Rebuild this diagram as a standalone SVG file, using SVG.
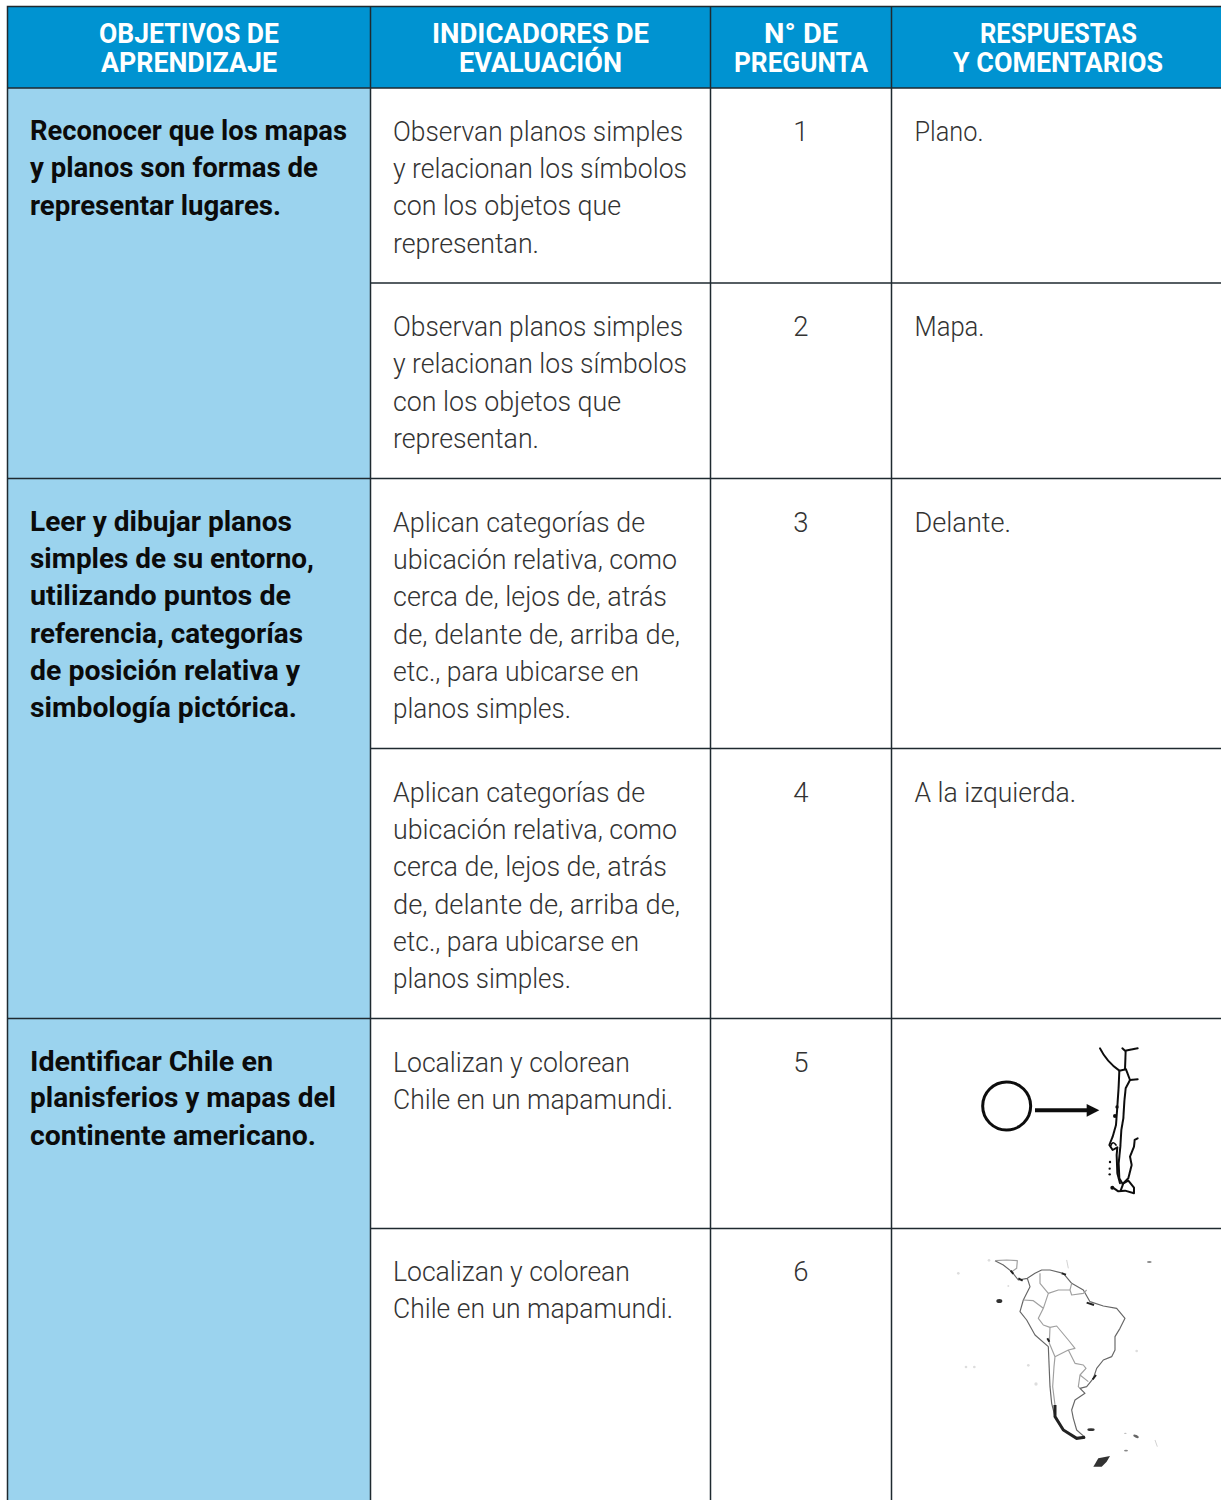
<svg xmlns="http://www.w3.org/2000/svg" width="1221" height="1500" viewBox="0 0 1221 1500">
<defs>
<filter id="soft" x="-5%" y="-5%" width="110%" height="110%"><feGaussianBlur stdDeviation="1.800"/></filter>
</defs>
<style>
text{font-family:"Roboto","Liberation Sans",sans-serif}
.h{font-size:27px;font-weight:700;fill:#fff}
.b{font-size:27px;font-weight:700;fill:#0b0b0b}
.t{font-size:27.500px;font-weight:300;fill:#333}
.n{text-anchor:middle}
.l{stroke:#1f2a30;stroke-width:1.5;fill:none}
.m{fill:none;stroke:#111;stroke-width:6;stroke-linejoin:round;stroke-linecap:round}
.g{fill:none;stroke:#666;stroke-width:3.500;stroke-linejoin:round}
.g2{fill:none;stroke:#a0a0a0;stroke-width:3.500;stroke-linejoin:round}
</style>
<rect width="1221" height="1500" fill="#fff"/>
<rect x="7" y="6" width="1214" height="82" fill="#0093d1"/>
<rect x="7" y="88" width="363.500" height="1412" fill="#9bd3ee"/>
<g id="grid">
<path class="l" d="M7.500 1500V6.500H1221M7.500 88H1221M370.500 6V1500M710.500 6V1500M891.500 6V1500"/>
<path class="l" d="M370.500 283H1221M7.500 478.500H1221M370.500 748.500H1221M7.500 1018.500H1221M370.500 1228.500H1221"/>
</g>
<g id="header">
<text class="h" x="99" y="43" textLength="180" lengthAdjust="spacingAndGlyphs">OBJETIVOS DE</text>
<text class="h" x="101" y="72" textLength="176" lengthAdjust="spacingAndGlyphs">APRENDIZAJE</text>
<text class="h" x="432" y="43" textLength="217" lengthAdjust="spacingAndGlyphs">INDICADORES DE</text>
<text class="h" x="459" y="72" textLength="163" lengthAdjust="spacingAndGlyphs">EVALUACIÓN</text>
<text class="h" x="764" y="43" textLength="74" lengthAdjust="spacingAndGlyphs">N° DE</text>
<text class="h" x="734" y="72" textLength="134" lengthAdjust="spacingAndGlyphs">PREGUNTA</text>
<text class="h" x="980" y="43" textLength="157" lengthAdjust="spacingAndGlyphs">RESPUESTAS</text>
<text class="h" x="953" y="72" textLength="210" lengthAdjust="spacingAndGlyphs">Y COMENTARIOS</text>
</g>
<g id="objetivo-1">
<text class="b" x="30" y="140" textLength="317" lengthAdjust="spacingAndGlyphs">Reconocer que los mapas</text>
<text class="b" x="30" y="177" textLength="288" lengthAdjust="spacingAndGlyphs">y planos son formas de</text>
<text class="b" x="30" y="214.500" textLength="251" lengthAdjust="spacingAndGlyphs">representar lugares.</text>
</g>
<g id="objetivo-2">
<text class="b" x="30" y="530.500" textLength="262" lengthAdjust="spacingAndGlyphs">Leer y dibujar planos</text>
<text class="b" x="30" y="567.500" textLength="284" lengthAdjust="spacingAndGlyphs">simples de su entorno,</text>
<text class="b" x="30" y="604.500" textLength="261" lengthAdjust="spacingAndGlyphs">utilizando puntos de</text>
<text class="b" x="30" y="642.500" textLength="273" lengthAdjust="spacingAndGlyphs">referencia, categorías</text>
<text class="b" x="30" y="679.500" textLength="270" lengthAdjust="spacingAndGlyphs">de posición relativa y</text>
<text class="b" x="30" y="716.500" textLength="267" lengthAdjust="spacingAndGlyphs">simbología pictórica.</text>
</g>
<g id="objetivo-3">
<text class="b" x="30" y="1070.500" textLength="243" lengthAdjust="spacingAndGlyphs">Identificar Chile en</text>
<text class="b" x="30" y="1107" textLength="306" lengthAdjust="spacingAndGlyphs">planisferios y mapas del</text>
<text class="b" x="30" y="1144.500" textLength="286" lengthAdjust="spacingAndGlyphs">continente americano.</text>
</g>
<g id="fila-1">
<text class="t" x="393" y="141" textLength="290" lengthAdjust="spacingAndGlyphs">Observan planos simples</text>
<text class="t" x="393" y="178" textLength="294" lengthAdjust="spacingAndGlyphs">y relacionan los símbolos</text>
<text class="t" x="393" y="215" textLength="228" lengthAdjust="spacingAndGlyphs">con los objetos que</text>
<text class="t" x="393" y="253" textLength="146" lengthAdjust="spacingAndGlyphs">representan.</text>
<text class="t n" x="801" y="141">1</text>
<text class="t" x="914.500" y="141" textLength="69" lengthAdjust="spacingAndGlyphs">Plano.</text>
</g>
<g id="fila-2">
<text class="t" x="393" y="336" textLength="290" lengthAdjust="spacingAndGlyphs">Observan planos simples</text>
<text class="t" x="393" y="373" textLength="294" lengthAdjust="spacingAndGlyphs">y relacionan los símbolos</text>
<text class="t" x="393" y="411" textLength="228" lengthAdjust="spacingAndGlyphs">con los objetos que</text>
<text class="t" x="393" y="448" textLength="146" lengthAdjust="spacingAndGlyphs">representan.</text>
<text class="t n" x="801" y="336">2</text>
<text class="t" x="914.500" y="336" textLength="70" lengthAdjust="spacingAndGlyphs">Mapa.</text>
</g>
<g id="fila-3">
<text class="t" x="393" y="532" textLength="252" lengthAdjust="spacingAndGlyphs">Aplican categorías de</text>
<text class="t" x="393" y="569" textLength="284" lengthAdjust="spacingAndGlyphs">ubicación relativa, como</text>
<text class="t" x="393" y="606" textLength="274" lengthAdjust="spacingAndGlyphs">cerca de, lejos de, atrás</text>
<text class="t" x="393" y="644" textLength="287" lengthAdjust="spacingAndGlyphs">de, delante de, arriba de,</text>
<text class="t" x="393" y="681" textLength="246" lengthAdjust="spacingAndGlyphs">etc., para ubicarse en</text>
<text class="t" x="393" y="718" textLength="178" lengthAdjust="spacingAndGlyphs">planos simples.</text>
<text class="t n" x="801" y="532">3</text>
<text class="t" x="914.500" y="532" textLength="96.500" lengthAdjust="spacingAndGlyphs">Delante.</text>
</g>
<g id="fila-4">
<text class="t" x="393" y="802" textLength="252" lengthAdjust="spacingAndGlyphs">Aplican categorías de</text>
<text class="t" x="393" y="839" textLength="284" lengthAdjust="spacingAndGlyphs">ubicación relativa, como</text>
<text class="t" x="393" y="876" textLength="274" lengthAdjust="spacingAndGlyphs">cerca de, lejos de, atrás</text>
<text class="t" x="393" y="914" textLength="287" lengthAdjust="spacingAndGlyphs">de, delante de, arriba de,</text>
<text class="t" x="393" y="951" textLength="246" lengthAdjust="spacingAndGlyphs">etc., para ubicarse en</text>
<text class="t" x="393" y="988" textLength="178" lengthAdjust="spacingAndGlyphs">planos simples.</text>
<text class="t n" x="801" y="802">4</text>
<text class="t" x="914.500" y="802" textLength="161.500" lengthAdjust="spacingAndGlyphs">A la izquierda.</text>
</g>
<g id="fila-5">
<text class="t" x="393" y="1072" textLength="237" lengthAdjust="spacingAndGlyphs">Localizan y colorean</text>
<text class="t" x="393" y="1109" textLength="280" lengthAdjust="spacingAndGlyphs">Chile en un mapamundi.</text>
<text class="t n" x="801" y="1072">5</text>
<g id="mapa-chile" transform="translate(960 1030) scale(.33333)" filter="url(#soft)">
<circle cx="140" cy="228" r="72" fill="none" stroke="#111" stroke-width="9"/>
<path d="M225 241H382" stroke="#111" stroke-width="12" fill="none"/>
<path d="M380 222L418 241L380 260Z" fill="#111"/>
<path class="m" d="M420 55Q440 95 478 122L498 118L510 150L497 175L493 215L490 265L484 300L481 350L476 400L478 445L488 462L505 445L515 405L510 380L522 350L524 330L533 325"/>
<path class="m" d="M487 55L495 62L533 55M497 62L495 118M510 150L533 148M478 122L476 170L472 230L468 285L458 320L448 345L458 360L472 352L470 375L472 430L480 460"/>
<path class="m" style="stroke-width:5" d="M452 348Q458 330 468 345"/>
<path class="m" d="M462 475L475 484L495 482L522 490L522 473L505 452L490 460L482 482"/>
<g fill="#111">
<circle cx="471" cy="231" r="5"/><circle cx="465" cy="258" r="6"/><circle cx="450" cy="396" r="3.500"/><circle cx="449" cy="416" r="3.500"/><circle cx="449" cy="433" r="3.500"/><circle cx="457" cy="473" r="6"/>
</g>
</g>
</g>
<g id="fila-6">
<text class="t" x="393" y="1281" textLength="237" lengthAdjust="spacingAndGlyphs">Localizan y colorean</text>
<text class="t" x="393" y="1318" textLength="280" lengthAdjust="spacingAndGlyphs">Chile en un mapamundi.</text>
<text class="t n" x="801" y="1281">6</text>
<g id="mapa-sudamerica" transform="translate(940 1240) scale(.33333)" filter="url(#soft)">
<path class="g" d="M165 62L190 75L215 95L235 120L262 115L285 100L305 90L330 90L370 100L395 130L430 150L450 185L490 198L530 205L555 235L540 265L525 290L525 330L515 350L490 360L470 385L460 415L440 440L420 445L435 460L405 480L395 510L400 535L410 570L435 592L410 595L370 570L345 530L335 490L330 440L325 320L285 285L260 240L240 215L250 180L270 140L262 115"/>
<path class="g2" d="M250 180L280 182L310 205L295 235L310 255L330 262L350 258L385 300L405 325L385 330L345 350L342 380L338 440L345 495M330 262L328 310L345 350M385 330L405 370L430 375L438 385L420 405L445 425M420 405L415 440L420 445M310 205L325 160L300 130L300 100M325 160L355 150L390 150L395 165L430 160L440 150M390 150L395 130M165 62L200 60L232 62L230 85L215 95"/>
<path d="M345 495L345 530L370 570L410 595L435 592" fill="none" stroke="#222" stroke-width="9"/>
<path d="M440 188L462 195M322 295L328 305M212 92L220 102M235 115L248 122M365 100L378 104M458 418L468 405" fill="none" stroke="#222" stroke-width="6"/>
<path d="M380 60L385 85M645 600L652 620" fill="none" stroke="#bbb" stroke-width="2"/>
<ellipse cx="178" cy="183" rx="9" ry="6" fill="#333"/><ellipse cx="453" cy="569" rx="11" ry="4" fill="#333"/><ellipse cx="628" cy="66" rx="7" ry="3" fill="#888"/><ellipse cx="588" cy="589" rx="9" ry="4" fill="#666" transform="rotate(25 588 589)"/><ellipse cx="558" cy="632" rx="6" ry="2.500" fill="#888"/><ellipse cx="556" cy="580" rx="4" ry="2" fill="#bbb"/>
<path d="M460 680L475 655L510 648L500 665L485 680Z" fill="#333"/>
<g fill="#ddd"><circle cx="55" cy="100" r="4"/><circle cx="265" cy="376" r="4"/><circle cx="103" cy="381" r="4"/><circle cx="78" cy="381" r="4"/><circle cx="288" cy="432" r="5"/><circle cx="590" cy="333" r="4"/><circle cx="147" cy="61" r="4"/><circle cx="205" cy="138" r="3"/></g>
</g>
</g>
</svg>
